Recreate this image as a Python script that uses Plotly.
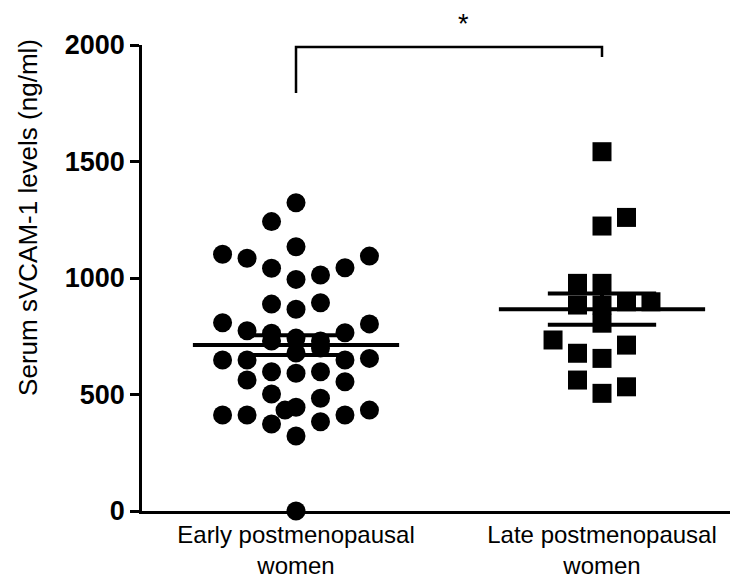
import numpy as np
import plotly.graph_objects as go

# ---- data ----
categories = ["Early postmenopausal<br>women", "Late postmenopausal<br>women"]

early_values = [1323, 1242, 1102, 1085, 1134, 1042, 994, 1013, 1044, 1094,
                888, 866, 894, 808, 803, 774, 765, 763, 648, 648, 648, 655,
                598, 591, 598, 555, 562, 502, 484, 412, 412, 433, 445, 373,
                383, 412, 433, 322, 0, 730, 742, 730, 678, 700]
# beeswarm slot of each point
early_slots = [0, -1, -3, -2, 0, -1, 0, 1, 2, 3,
               -1, 0, 1, -3, 3, -2, 2, -1, -3, -2, 2, 3,
               -1, 0, 1, 2, -2, -1, 1, -3, -2, -0.45, 0, -1,
               1, 2, 3, 0, 0, -1, 0, 1, 0, 1]

late_values = [1542, 1260, 1223, 977, 977, 884, 884, 898, 898, 806,
               734, 712, 677, 655, 562, 533, 505]
late_slots = [0, 1, 0, -1, 0, -1, 0, 1, 2, 0,
              -2, 1, -1, 0, -1, 1, 0]

y_ticks = [0, 500, 1000, 1500, 2000]
significance = "*"
y_title = "Serum sVCAM-1 levels (ng/ml)"

# ---- styling constants ----
SLOT_W = 0.08
MEAN_HALF = 0.337
SEM_HALF = 0.177
FONT = "Liberation Sans, Arial, sans-serif"

fig = go.Figure()

groups = [
    (1, early_values, early_slots, "circle"),
    (2, late_values, late_slots, "square"),
]
for xc, vals, slots, sym in groups:
    xs = [xc + s * SLOT_W for s in slots]
    fig.add_trace(go.Scatter(
        x=xs, y=vals, mode="markers",
        marker=dict(symbol=sym, size=19, color="black", line=dict(width=0)),
        cliponaxis=False, showlegend=False, hoverinfo="y"))
    v = np.array(vals, dtype=float)
    m = v.mean()
    sem = v.std(ddof=1) / np.sqrt(len(v))
    # mean line
    fig.add_trace(go.Scatter(x=[xc - MEAN_HALF, xc + MEAN_HALF], y=[m, m],
                             mode="lines", line=dict(color="black", width=4),
                             showlegend=False, hoverinfo="skip"))
    # SEM bar and caps
    fig.add_trace(go.Scatter(
        x=[xc - SEM_HALF, xc + SEM_HALF, None, xc, xc, None, xc - SEM_HALF, xc + SEM_HALF],
        y=[m + sem, m + sem, None, m + sem, m - sem, None, m - sem, m - sem],
        mode="lines", line=dict(color="black", width=4),
        showlegend=False, hoverinfo="skip"))

# significance bracket
fig.add_trace(go.Scatter(x=[1, 1, 2, 2], y=[1794, 1991, 1991, 1948],
                         mode="lines", line=dict(color="black", width=2.5),
                         showlegend=False, hoverinfo="skip"))
fig.add_annotation(x=1.546, y=1.046, text=significance, showarrow=False,
                   font=dict(family=FONT, size=27, color="black"),
                   xref="x", yref="paper", yanchor="middle")
# y-axis title
fig.add_annotation(x=-0.194, y=0.631, text=y_title, showarrow=False,
                   textangle=-90, xref="paper", yref="paper",
                   xanchor="center", yanchor="middle",
                   font=dict(family=FONT, size=26, color="black"))

fig.update_layout(
    width=737, height=575,
    margin=dict(l=134, r=15, t=37, b=72),
    paper_bgcolor="white", plot_bgcolor="white",
    font=dict(family=FONT, color="black"),
)
fig.update_xaxes(
    range=[0.4967, 2.4183], tickvals=[1, 2], ticktext=categories,
    showgrid=False, zeroline=False, showline=True, linecolor="black",
    linewidth=2.5, ticks="", automargin=False,
    tickfont=dict(family=FONT, size=24, color="black"),
)
fig.update_yaxes(
    range=[0, 2000], tickvals=y_ticks, ticktext=[str(t) for t in y_ticks],
    showgrid=False, zeroline=False, showline=True, linecolor="black",
    linewidth=2.5, ticks="outside", ticklen=9, tickwidth=2.5, tickcolor="black",
    automargin=False,
    tickfont=dict(family=FONT, size=27, color="black", weight="bold"),
)

fig.write_html("out.html")
